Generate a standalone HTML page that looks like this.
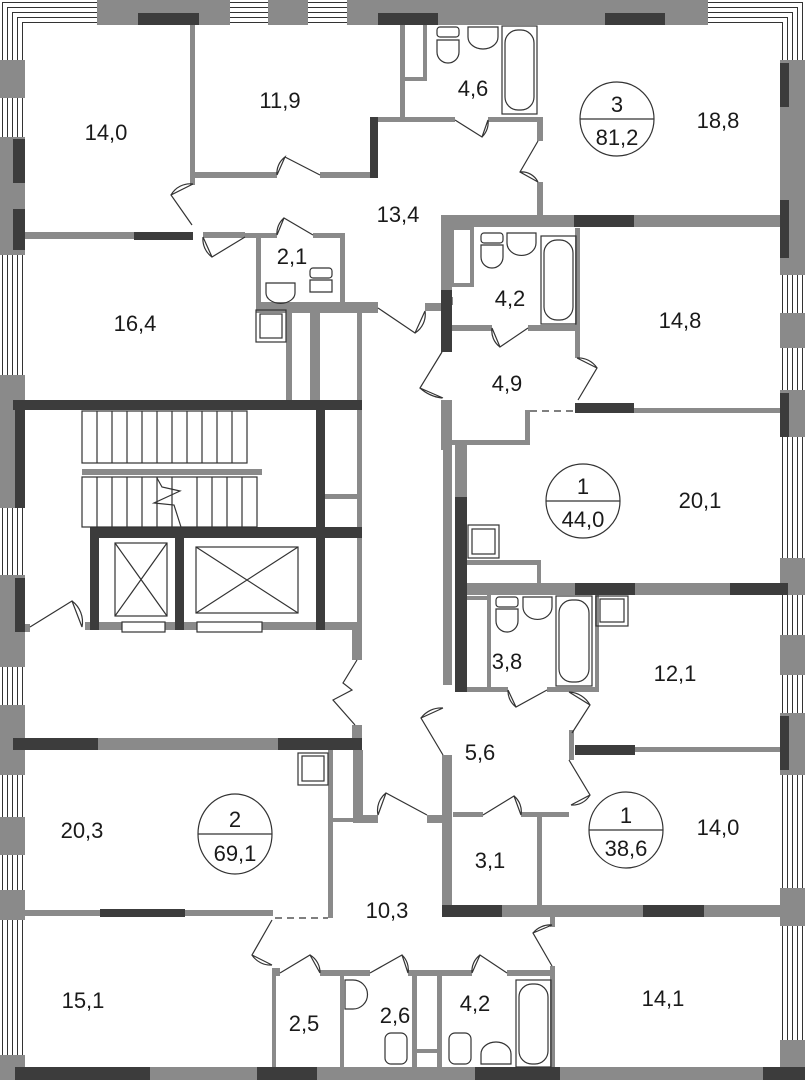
<!DOCTYPE html>
<html><head><meta charset="utf-8"><style>
html,body{margin:0;padding:0;background:#fff;}
svg{display:block;}
text{font-family:"Liberation Sans",Arial,sans-serif;font-size:22px;fill:#1a1a1a;text-anchor:middle;}
</style></head><body>
<svg width="805" height="1080" viewBox="0 0 805 1080" xmlns="http://www.w3.org/2000/svg">
<rect width="805" height="1080" fill="#fff"/>
<g fill="none" stroke="#333" stroke-width="1">
<rect x="2.5" y="2.5" width="800" height="1075"/>
<rect x="7.5" y="7.5" width="790" height="1065"/>
<rect x="12.5" y="12.5" width="780" height="1055"/>
<rect x="17.5" y="17.5" width="770" height="1045"/>
<rect x="22.5" y="22.5" width="760" height="1035"/>
</g>
<rect x="25" y="25" width="755" height="1042" fill="#fff"/>
<g fill="#8a8a8a">
<rect x="97" y="0" width="133" height="25"/><rect x="268" y="0" width="40" height="25"/><rect x="347" y="0" width="361" height="25"/>
<rect x="0" y="60" width="25" height="38"/><rect x="0" y="137" width="25" height="118"/><rect x="0" y="375" width="25" height="133"/>
<rect x="0" y="575" width="25" height="92"/><rect x="0" y="705" width="25" height="70"/><rect x="0" y="817" width="25" height="38"/>
<rect x="0" y="890" width="25" height="30"/><rect x="0" y="1055" width="25" height="25"/>
<rect x="780" y="60" width="25" height="215"/><rect x="780" y="313" width="25" height="35"/><rect x="780" y="390" width="25" height="47"/>
<rect x="780" y="558" width="25" height="37"/><rect x="780" y="635" width="25" height="40"/><rect x="780" y="713" width="25" height="62"/>
<rect x="780" y="888" width="25" height="38"/><rect x="780" y="1040" width="25" height="40"/>
<rect x="0" y="1067" width="805" height="13"/>
</g>
<g fill="#3c3c3c">
<rect x="138" y="13" width="61" height="12"/><rect x="378" y="13" width="60" height="12"/><rect x="605" y="13" width="60" height="12"/>
<rect x="13" y="139" width="12" height="44"/><rect x="13" y="209" width="12" height="41"/><rect x="15" y="400" width="10" height="108"/><rect x="15" y="578" width="10" height="54"/>
<rect x="780" y="63" width="9" height="44"/><rect x="780" y="200" width="9" height="58"/><rect x="780" y="393" width="9" height="44"/><rect x="780" y="716" width="9" height="54"/>
<rect x="15" y="1067" width="135" height="13"/><rect x="257" y="1067" width="60" height="13"/><rect x="475" y="1067" width="85" height="13"/><rect x="763" y="1067" width="42" height="13"/>
</g>
<g fill="#8a8a8a">
<rect x="190" y="25" width="5" height="160"/>
<rect x="195" y="172" width="82" height="6"/><rect x="320" y="172" width="50" height="6"/>
<rect x="370" y="117" width="85" height="5"/><rect x="488" y="117" width="52" height="5"/>
<rect x="400" y="25" width="5" height="95"/><rect x="400" y="77" width="27" height="4"/><rect x="423" y="25" width="4" height="55"/>
<rect x="537" y="117" width="6" height="24"/><rect x="537" y="182" width="6" height="40"/>
<rect x="441" y="215" width="339" height="12"/>
<rect x="441" y="227" width="11" height="63"/>
<rect x="452" y="228" width="20" height="57" fill="none" stroke="#8a8a8a" stroke-width="4"/>
<rect x="441" y="297" width="12" height="8"/><rect x="425" y="303" width="16" height="8"/>
<rect x="452" y="325" width="40" height="6"/><rect x="528" y="325" width="47" height="6"/>
<rect x="575" y="228" width="5" height="130"/>
<rect x="25" y="232" width="110" height="7"/>
<rect x="203" y="232" width="42" height="6"/><rect x="245" y="233" width="32" height="5"/><rect x="313" y="233" width="32" height="5"/>
<rect x="256" y="235" width="5" height="72"/><rect x="340" y="235" width="5" height="72"/>
<rect x="256" y="302" width="122" height="11"/>
<rect x="286" y="308" width="6" height="92"/><rect x="310" y="308" width="10" height="92"/><rect x="357" y="313" width="5" height="87"/>
<rect x="441" y="400" width="11" height="50"/><rect x="443" y="450" width="9" height="235"/>
<rect x="452" y="440" width="76" height="5"/><rect x="525" y="410" width="5" height="35"/>
<rect x="455" y="445" width="12" height="52"/>
<rect x="634" y="408" width="146" height="5"/>
<rect x="467" y="560" width="73" height="5"/><rect x="537" y="560" width="4" height="25"/>
<rect x="467" y="583" width="313" height="12"/>
<rect x="467" y="596" width="20" height="4"/><rect x="487" y="595" width="4" height="95"/><rect x="595" y="595" width="4" height="97"/>
<rect x="467" y="687" width="41" height="5"/><rect x="547" y="687" width="52" height="5"/>
<rect x="635" y="747" width="145" height="5"/>
<rect x="569" y="730" width="5" height="30"/>
<rect x="442" y="755" width="10" height="162"/>
<rect x="453" y="812" width="30" height="5"/><rect x="521" y="812" width="48" height="5"/>
<rect x="537" y="817" width="5" height="90"/>
<rect x="502" y="905" width="141" height="12"/><rect x="704" y="905" width="76" height="12"/>
<rect x="82" y="469" width="180" height="6"/>
<rect x="85" y="622" width="277" height="8"/>
<rect x="357" y="410" width="5" height="220"/><rect x="325" y="494" width="35" height="5"/>
<rect x="352" y="630" width="10" height="30"/><rect x="352" y="725" width="10" height="15"/>
<rect x="25" y="624" width="5" height="8"/>
<rect x="98" y="738" width="180" height="12"/>
<rect x="328" y="750" width="5" height="168"/><rect x="333" y="818" width="20" height="4"/>
<rect x="353" y="750" width="10" height="73"/><rect x="363" y="815" width="15" height="8"/><rect x="427" y="815" width="15" height="8"/>
<rect x="25" y="910" width="75" height="6"/><rect x="185" y="910" width="88" height="6"/>
<rect x="272" y="968" width="8" height="8"/><rect x="320" y="970" width="50" height="6"/><rect x="408" y="970" width="64" height="6"/><rect x="507" y="970" width="46" height="6"/>
<rect x="272" y="970" width="4" height="97"/><rect x="340" y="976" width="4" height="91"/><rect x="412" y="976" width="5" height="91"/><rect x="437" y="976" width="5" height="91"/><rect x="417" y="1049" width="20" height="4"/>
<rect x="550" y="917" width="5" height="10"/><rect x="550" y="966" width="5" height="101"/>
</g>
<g fill="#3c3c3c">
<rect x="370" y="117" width="8" height="61"/>
<rect x="134" y="232" width="59" height="8"/>
<rect x="441" y="290" width="11" height="62"/>
<rect x="574" y="215" width="60" height="12"/>
<rect x="575" y="403" width="59" height="10"/>
<rect x="455" y="497" width="12" height="195"/>
<rect x="575" y="583" width="60" height="12"/><rect x="730" y="583" width="58" height="12"/>
<rect x="575" y="745" width="60" height="10"/>
<rect x="13" y="400" width="349" height="10"/>
<rect x="316" y="400" width="9" height="230"/>
<rect x="90" y="527" width="272" height="11"/>
<rect x="90" y="527" width="9" height="103"/><rect x="175" y="538" width="9" height="92"/>
<rect x="13" y="738" width="85" height="12"/><rect x="278" y="738" width="84" height="12"/>
<rect x="442" y="905" width="60" height="12"/><rect x="643" y="905" width="61" height="12"/>
<rect x="100" y="909" width="85" height="8"/>
</g>
<g fill="none" stroke="#333" stroke-width="1.2">
<line x1="530" y1="411" x2="575" y2="411" stroke-dasharray="7,5"/>
<line x1="275" y1="918" x2="328" y2="918" stroke-dasharray="7,5"/>
<rect x="82" y="411" width="165" height="52"/>
<path d="M97,411V463M112,411V463M127,411V463M142,411V463M157,411V463M172,411V463M187,411V463M202,411V463M217,411V463M232,411V463"/>
<rect x="82" y="477" width="175" height="50"/>
<path d="M97,477V527M112,477V527M127,477V527M142,477V527M157,477V527M172,477V527M197,477V527M212,477V527M227,477V527M242,477V527"/>
<path d="M157,478 L162,487 L180,491 L154,503 L174,505 L181,527"/>
<rect x="115" y="543" width="52" height="73"/><path d="M115,543L167,616M167,543L115,616"/>
<rect x="196" y="547" width="102" height="66"/><path d="M196,547L298,613M298,547L196,613"/>
<rect x="122" y="622" width="43" height="10" fill="#fff"/><rect x="197" y="622" width="65" height="10" fill="#fff"/>
<path d="M277,175 L285,157 A20,20 0 0 0 277,175 M285,157 L320,175"/>
<path d="M193,184 L171,195 L192,225 M171,195 A22,22 0 0 1 193,184"/>
<path d="M203,237 L212,257 L245,237 M203,237 A22,22 0 0 0 212,257"/>
<path d="M277,235 L284,218 L313,235 M277,235 A20,20 0 0 1 284,218"/>
<path d="M455,120 L482,137 L488,120 M482,137 A20,20 0 0 0 488,120"/>
<path d="M538,141 L520,172 L538,182 M520,172 A18,18 0 0 1 538,182"/>
<path d="M378,308 L415,333 L425,311 M415,333 A22,22 0 0 0 425,311"/>
<path d="M442,352 L420,388 L443,398 M420,388 A40,40 0 0 0 442,398"/>
<path d="M492,328 L500,347 L528,328 M492,328 A20,20 0 0 0 500,347"/>
<path d="M577,358 L597,368 L578,400 M577,358 A22,22 0 0 1 597,368"/>
<path d="M30,627 L72,601 L82,627 M72,601 A26,26 0 0 1 82,627"/>
<path d="M357,660 L343,683 L352,690 L333,700 L355,725"/>
<path d="M508,690 L516,707 L547,690 M508,690 A20,20 0 0 0 516,707"/>
<path d="M569,692 L590,705 L572,733 M569,692 A25,25 0 0 1 590,705"/>
<path d="M443,708 L421,718 L443,755 M443,708 A25,25 0 0 0 421,718"/>
<path d="M569,760 L590,795 L571,805 M590,795 A20,20 0 0 1 571,805"/>
<path d="M378,815 L386,793 L427,815 M378,815 A22,22 0 0 1 386,793"/>
<path d="M483,815 L514,796 L521,815 M514,796 A20,20 0 0 1 521,815"/>
<path d="M272,920 L252,955 L272,965 M252,955 A22,22 0 0 0 272,965"/>
<path d="M280,973 L310,955 L320,973 M310,955 A20,20 0 0 1 320,973"/>
<path d="M370,973 L402,955 L408,973 M402,955 A20,20 0 0 1 408,973"/>
<path d="M472,973 L480,955 L507,973 M472,973 A20,20 0 0 1 480,955"/>
<path d="M552,925 L533,933 L552,966 M552,925 A22,22 0 0 0 533,933"/>
<rect x="437" y="27" width="22" height="10" rx="3"/><path d="M437,40 h22 v12 a11,11 0 0 1 -22,0z"/>
<path d="M468,27 h30 v10 a15,12 0 0 1 -30,0z"/>
<rect x="502" y="26" width="35" height="88"/><rect x="505" y="30" width="29" height="80" rx="13"/>
<rect x="481" y="233" width="22" height="10" rx="3"/><path d="M481,245 h22 v12 a11,11 0 0 1 -22,0z"/>
<path d="M507,233 h29 v10 a14,12 0 0 1 -29,0z"/>
<rect x="541" y="236" width="35" height="88"/><rect x="544" y="240" width="29" height="80" rx="13"/>
<path d="M266,283 h29 v10 a14,10 0 0 1 -29,0z"/>
<rect x="310" y="268" width="22" height="10" rx="3"/><path d="M310,280 h22 v12 h-22z"/>
<rect x="256" y="310" width="30" height="32"/><rect x="260" y="314" width="22" height="24"/>
<rect x="468" y="525" width="31" height="33"/><rect x="472" y="529" width="23" height="25"/>
<rect x="496" y="597" width="22" height="10" rx="3"/><path d="M496,609 h22 v12 a11,11 0 0 1 -22,0z"/>
<path d="M523,597 h29 v10 a14,12 0 0 1 -29,0z"/>
<rect x="556" y="596" width="36" height="90"/><rect x="559" y="600" width="30" height="82" rx="13"/>
<rect x="596" y="596" width="32" height="30"/><rect x="600" y="599" width="24" height="23"/>
<rect x="298" y="753" width="30" height="32"/><rect x="302" y="756" width="22" height="25"/>
<path d="M345,980 v29 h8 a14,14 0 0 0 0,-29z"/>
<rect x="385" y="1033" width="22" height="31" rx="6"/><rect x="449" y="1033" width="22" height="31" rx="6"/>
<path d="M481,1064 v-10 a15,12 0 0 1 30,0 v10z"/>
<rect x="516" y="980" width="35" height="87"/><rect x="519" y="984" width="29" height="80" rx="13"/>
</g>
<g fill="none" stroke="#333" stroke-width="1.2">
<circle cx="617" cy="119" r="37"/><line x1="580" y1="119" x2="654" y2="119"/>
<circle cx="583" cy="501" r="37"/><line x1="546" y1="501" x2="620" y2="501"/>
<ellipse cx="626" cy="830" rx="37" ry="38"/><line x1="589" y1="830" x2="663" y2="830"/>
<ellipse cx="235" cy="834" rx="37" ry="40"/><line x1="198" y1="834" x2="272" y2="834"/>
</g>
<g>
<text x="617" y="112" font-size="27">3</text><text x="617" y="145" font-size="23">81,2</text>
<text x="583" y="494" font-size="27">1</text><text x="583" y="527" font-size="23">44,0</text>
<text x="626" y="823" font-size="27">1</text><text x="626" y="856" font-size="23">38,6</text>
<text x="235" y="827" font-size="27">2</text><text x="235" y="861" font-size="23">69,1</text>
<text x="106" y="140">14,0</text><text x="280" y="108">11,9</text><text x="473" y="96">4,6</text>
<text x="718" y="128">18,8</text><text x="398" y="222">13,4</text><text x="292" y="264">2,1</text>
<text x="135" y="331">16,4</text><text x="510" y="306">4,2</text><text x="680" y="328">14,8</text>
<text x="507" y="391">4,9</text><text x="700" y="508">20,1</text><text x="507" y="669">3,8</text>
<text x="675" y="681">12,1</text><text x="480" y="760">5,6</text><text x="718" y="835">14,0</text>
<text x="82" y="838">20,3</text><text x="490" y="868">3,1</text><text x="387" y="918">10,3</text>
<text x="83" y="1008">15,1</text><text x="304" y="1031">2,5</text><text x="395" y="1023">2,6</text>
<text x="475" y="1011">4,2</text><text x="663" y="1006">14,1</text>
</g>
</svg>
</body></html>
